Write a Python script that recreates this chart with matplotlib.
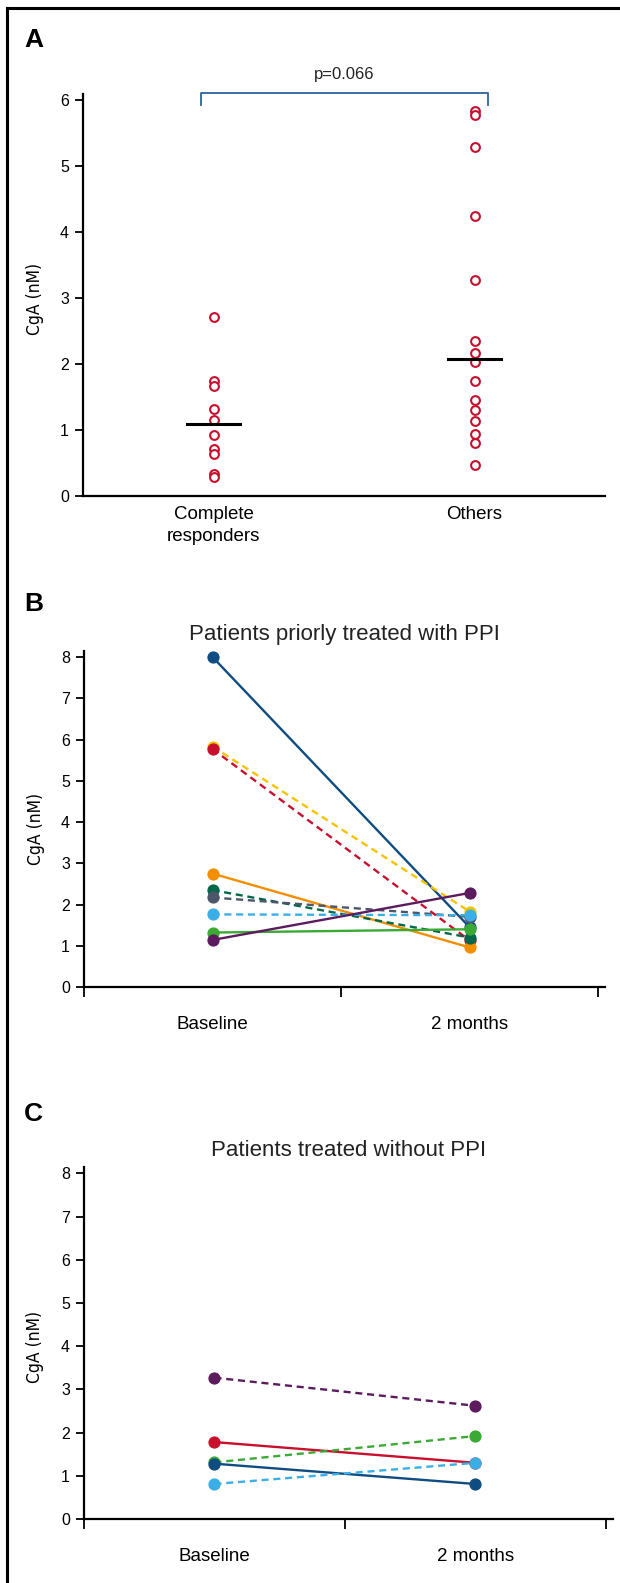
import matplotlib
matplotlib.use("Agg")
import matplotlib.pyplot as plt
from matplotlib.lines import Line2D

plt.rcParams['font.family'] = ['Liberation Sans', 'DejaVu Sans']

# panel A: CgA by response group
groups = ['Complete\nresponders', 'Others']
complete = [2.72, 1.75, 1.67, 1.33, 1.15, 0.93, 0.72, 0.64, 0.34, 0.30]
others = [5.83, 5.77, 5.29, 4.25, 3.27, 2.35, 2.17, 2.04, 1.75, 1.46, 1.31, 1.14, 0.94, 0.81, 0.48]
medians = [1.10, 2.08]
p_text = 'p=0.066'

# panel B: patients priorly treated with PPI (baseline, 2 months)
timepoints = ['Baseline', '2 months']
ppi_base = [8.00, 5.83, 5.77, 2.75, 2.35, 2.17, 1.76, 1.32, 1.14]
ppi_2mo = [1.45, 1.83, 1.13, 0.96, 1.20, 1.70, 1.74, 1.40, 2.28]
ppi_colors = ['#0f4c81', '#f7c300', '#c8102e', '#f28e00', '#00684a', '#4c566a', '#3caee6', '#3aaa35', '#5b1b5d']
ppi_styles = ['-', '--', '--', '-', '--', '--', '--', '-', '-']

# panel C: patients treated without PPI
nop_base = [3.27, 1.78, 1.31, 1.28, 0.81]
nop_2mo = [2.62, 1.30, 1.92, 0.81, 1.30]
nop_colors = ['#5b1b5d', '#c8102e', '#3aaa35', '#0f4c81', '#3caee6']
nop_styles = ['--', '-', '--', '-', '--']

W, H = 620, 1583
fig = plt.figure(figsize=(W / 100, H / 100), dpi=100)


def box(left, top, right, bottom):
    return [left / W, 1 - bottom / H, (right - left) / W, (bottom - top) / H]


def style_axis(ax):
    for s in ['top', 'right']:
        ax.spines[s].set_visible(False)
    for s in ['left', 'bottom']:
        ax.spines[s].set_linewidth(1.6)
    ax.tick_params(axis='y', direction='out', length=6, width=1.3, labelsize=11.5, pad=4)


ylab_font = dict(family='DejaVu Sans', fontstretch='condensed', fontsize=12.5)

# frame (top and left only)
fig.add_artist(Line2D([7 / W, 7 / W], [0, 1 - 8 / H], color='black', lw=2.2))
fig.add_artist(Line2D([7 / W, 1], [1 - 8 / H, 1 - 8 / H], color='black', lw=2.2))

# ---- A ----
axA = fig.add_axes(box(83, 93.6, 605, 496.4))
style_axis(axA)
axA.scatter([0.5] * len(complete), complete, s=40, facecolors='white', edgecolors='#c8102e', linewidths=1.5, zorder=3)
axA.scatter([1.5] * len(others), others, s=40, facecolors='white', edgecolors='#c8102e', linewidths=1.5, zorder=3)
for i, m in enumerate(medians):
    axA.plot([i + 0.4, i + 0.6], [m, m], color='black', lw=2.2, zorder=4)
axA.set_xlim(0, 2)
axA.set_ylim(0, 6.1)
axA.set_yticks(range(7))
axA.set_xticks([0.5, 1.5])
axA.set_xticklabels(groups, fontsize=13.5, linespacing=1.35)
axA.tick_params(axis='x', length=0, pad=7)
axA.plot([0.452, 0.452, 1.552, 1.552], [5.93, 6.11, 6.11, 5.93], color='#2b63a0', lw=1.3, clip_on=False)
axA.text(1.0, 6.39, p_text, ha='center', va='center', fontsize=12, color='#222222')
axA.set_ylabel('CgA (nM)', **ylab_font)
axA.yaxis.set_label_coords(-0.075, 0.49)
fig.text(33.5 / W, 1 - 40 / H, 'A', fontsize=19, fontweight='bold', ha='center', va='center')


def pair_panel(rect, base, after, colors, styles, title, letter, letter_y, label_y):
    ax = fig.add_axes(rect)
    style_axis(ax)
    for b, a, c, ls in zip(base, after, colors, styles):
        ax.plot([0.5, 1.5], [b, a], color=c, ls=ls, lw=1.7, marker='o', markersize=7.8,
                dashes=(3, 2) if ls == '--' else (None, None), zorder=3)
    ax.set_xlim(0, 2.027)
    ax.set_ylim(0, 8.146)
    ax.set_yticks(range(9))
    ax.set_xticks([0, 1, 2])
    ax.set_xticklabels([])
    ax.tick_params(axis='x', which='major', direction='out', length=7, width=1.3)
    ax.set_xticks([0.5, 1.5], minor=True)
    ax.set_xticklabels(timepoints, minor=True, fontsize=13.5)
    ax.tick_params(axis='x', which='minor', length=0, pad=21)
    ax.set_title(title, fontsize=16, pad=8, color='#222222')
    ax.set_ylabel('CgA (nM)', **ylab_font)
    ax.yaxis.set_label_coords(-0.075, label_y)
    fig.text(33.5 / W, 1 - letter_y / H, letter, fontsize=19, fontweight='bold', ha='center', va='center')
    return ax


pair_panel(box(84, 651, 605, 987), ppi_base, ppi_2mo, ppi_colors, ppi_styles,
           'Patients priorly treated with PPI', 'B', 604, 0.47)
pair_panel(box(84, 1167, 613, 1519), nop_base, nop_2mo, nop_colors, nop_styles,
           'Patients treated without PPI', 'C', 1114, 0.49)

fig.savefig('out.png', dpi=100)
